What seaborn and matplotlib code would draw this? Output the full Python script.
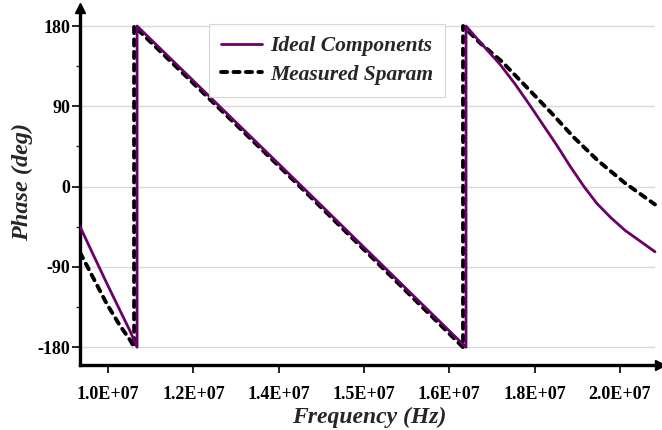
import matplotlib
matplotlib.use("Agg")
import matplotlib.pyplot as plt
import seaborn as sns

# values (Hz, degrees)
ideal_freq = [9.453e6, 9.707e6, 9.980e6, 1.0234e7, 1.0430e7, 1.0566e7,
              1.0566e7, 1.3789e7, 1.6992e7,
              1.6992e7, 1.7266e7, 1.7657e7, 1.7950e7, 1.8242e7, 1.8535e7, 1.8770e7,
              1.9024e7, 1.9297e7, 1.9551e7, 1.9825e7, 2.0098e7, 2.0391e7, 2.0684e7]
ideal_phase = [-45, -76, -109, -139, -162, -180,
               180, 0, -180,
               180, 162, 137, 115, 91, 66, 46,
               23, 0, -19, -35, -49, -61, -73]

meas_freq = [9.453e6, 9.707e6, 9.980e6, 1.0234e7, 1.0430e7, 1.0508e7,
             1.0508e7, 1.3750e7, 1.6934e7,
             1.6934e7, 1.7266e7, 1.7696e7, 1.8184e7, 1.8653e7, 1.9102e7,
             1.9571e7, 2.0098e7, 2.0684e7]
meas_phase = [-74, -102, -132, -156, -172, -180,
              180, 0, -180,
              180, 161, 140, 111, 83, 55,
              29, 4, -20]

xtick_labels = ["1.0E+07", "1.2E+07", "1.4E+07", "1.5E+07", "1.6E+07", "1.8E+07", "2.0E+07"]
xtick_pos = [1.0e7, 1.16667e7, 1.33333e7, 1.5e7, 1.66667e7, 1.83333e7, 2.0e7]
ytick_vals = [-180, -90, 0, 90, 180]
ytick_labels = ["-180", "-90", "0", "90", "180"]

sns.set_style("white")
plt.rcParams["font.family"] = ["Liberation Serif", "DejaVu Serif"]
plt.rcParams["font.weight"] = "bold"
plt.rcParams["axes.unicode_minus"] = False

fig = plt.figure(figsize=(6.62, 4.30), dpi=100)
ax = fig.add_axes([0.121, 0.151, 0.876, 0.83])

for y in ytick_vals:
    ax.axhline(y, color="#d9d9d9", lw=1, zorder=0, xmax=0.99)

sns.lineplot(x=meas_freq, y=meas_phase, sort=False, estimator=None, ax=ax,
             color="black", lw=2.8, linestyle=(0, (1.6, 1.6)),
             dash_capstyle="round", label="Measured Sparam", zorder=2)
sns.lineplot(x=ideal_freq, y=ideal_phase, sort=False, estimator=None, ax=ax,
             color="#6a006a", lw=2.0, label="Ideal Components", zorder=3)

ax.set_xlim(9.453e6, 2.0782e7)
ax.set_ylim(-200, 200)
ax.set_xticks(xtick_pos)
ax.set_xticklabels(xtick_labels)
ax.set_yticks(ytick_vals)
ax.set_yticklabels(ytick_labels)
ax.set_yticks([-135, -45, 45, 135], minor=True)
ax.tick_params(axis="both", which="major", direction="out", length=6, width=1.2,
               labelsize=13, colors="black", bottom=True, left=True)
ax.tick_params(axis="x", which="major", pad=9)
ax.tick_params(axis="y", which="major", pad=1)
ax.tick_params(axis="y", which="minor", direction="out", length=3, width=1, left=True)
for lab in ax.get_xticklabels() + ax.get_yticklabels():
    lab.set_fontweight("bold")

for s in ["top", "right"]:
    ax.spines[s].set_visible(False)
for s in ["left", "bottom"]:
    ax.spines[s].set_linewidth(2.4)
    ax.spines[s].set_color("black")
ax.plot(1, 0, ">", color="black", ms=7, transform=ax.transAxes, clip_on=False)
ax.plot(0, 1, "^", color="black", ms=7, transform=ax.transAxes, clip_on=False)

ax.set_xlabel("Frequency (Hz)", fontsize=17, fontstyle="italic", fontweight="bold")
ax.set_ylabel("Phase (deg)", fontsize=17.5, fontstyle="italic", fontweight="bold")
ax.xaxis.set_label_coords(0.498, -0.118)
ax.yaxis.set_label_coords(-0.081, 0.513)

handles, labels = ax.get_legend_handles_labels()
leg = ax.legend(handles[::-1], labels[::-1], loc="upper left", bbox_to_anchor=(0.222, 0.955),
                borderaxespad=0, frameon=True, fancybox=False, edgecolor="#cccccc",
                handlelength=1.9, handletextpad=0.4, borderpad=0.55, labelspacing=0.4,
                prop={"family": "Liberation Serif", "weight": "bold", "style": "italic", "size": 15.5})
leg.get_frame().set_linewidth(0.8)

fig.savefig("out.png", dpi=100)
